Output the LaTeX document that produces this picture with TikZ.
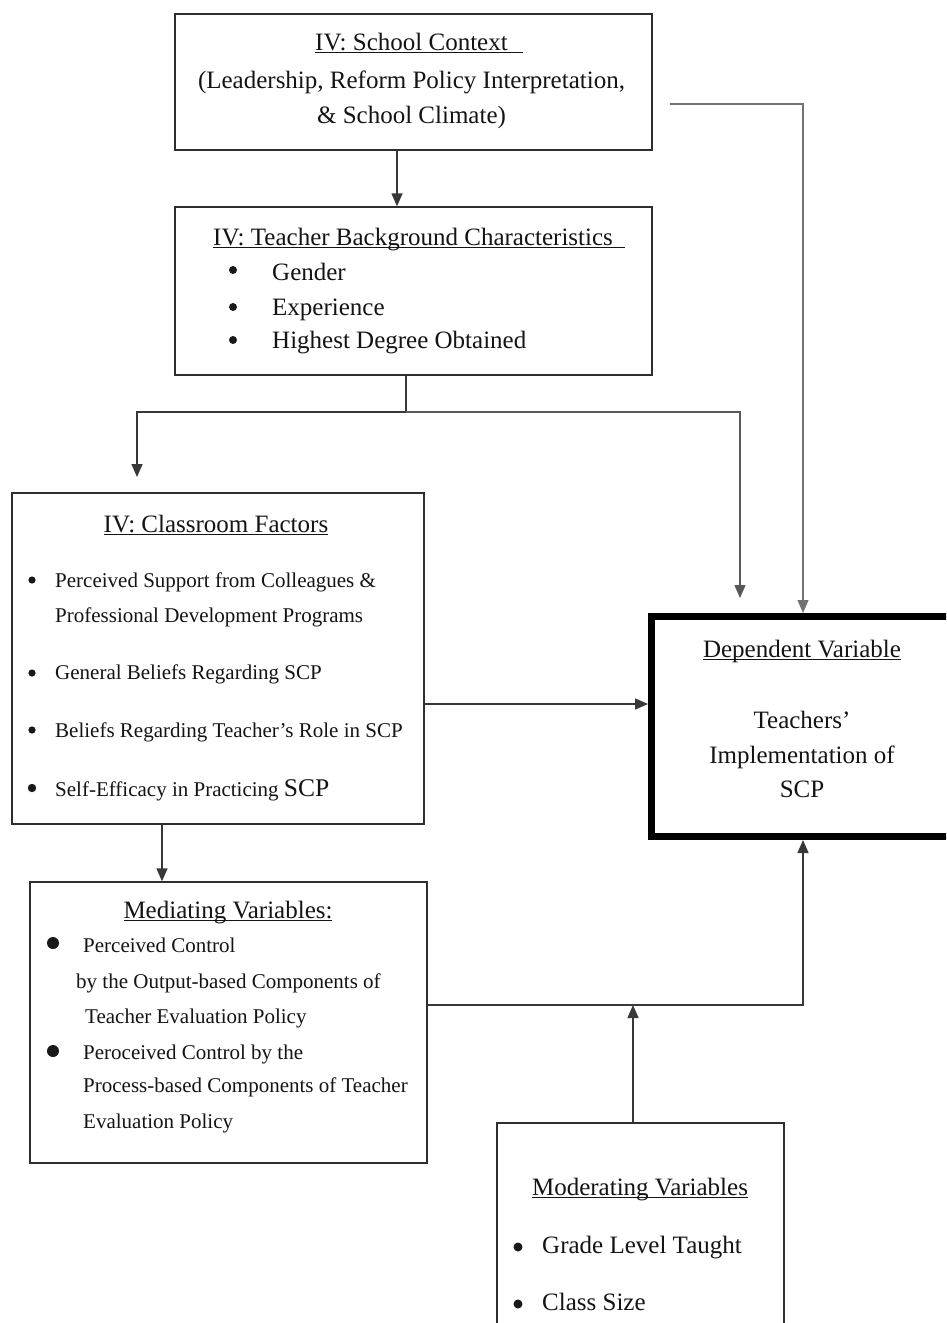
\documentclass[tikz,border=0pt]{standalone}
\usepackage{fontspec}
\setmainfont{Liberation Serif}
\usetikzlibrary{arrows.meta}

% underline sitting just below the baseline, through descenders
\newcommand{\undl}[1]{\begingroup\setbox0=\hbox{#1}\rlap{\rule[-3.4pt]{\wd0}{1.1pt}}\box0\endgroup}

\tikzset{
  box/.style={draw=black!82, line width=1.4pt, rectangle, inner sep=0pt},
  bigbox/.style={draw=black, line width=7pt, rectangle, inner sep=0pt},
  conn/.style={draw=black!78, line width=1.4pt},
  arr/.style={conn, -{Triangle[length=13pt,width=11pt]}},
  big/.style={font=\fontsize{25}{29}\selectfont, text=black!92, inner sep=0pt},
  small/.style={font=\fontsize{21}{24}\selectfont, text=black!92, inner sep=0pt},
  dot/.style={fill=black!90},
}

\begin{document}
\begin{tikzpicture}[x=1pt,y=-1pt]
\useasboundingbox (0,0) rectangle (946,1323);
\clip (0,0) rectangle (946,1323);
\fill[white] (0,0) rectangle (946,1323);

% ---- boxes ----
\node[box, minimum width=477pt, minimum height=136pt] (ctx) at (413.5,82) {};
\node[box, minimum width=477pt, minimum height=168pt] (tbc) at (413.5,291) {};
\node[box, minimum width=412pt, minimum height=331pt] (cls) at (218,658.5) {};
\node[box, minimum width=397pt, minimum height=281pt] (med) at (228.5,1022.5) {};
\node[bigbox, minimum width=303pt, minimum height=220pt] (dep) at (803,726.5) {};
\node[box, minimum width=287pt, minimum height=260pt] (mod) at (640.5,1253) {};

% ---- school context ----
\node[big, anchor=base] (ctxT) at (419,50) {\undl{IV: School Context\hspace{0.6em}}};
\node[big, anchor=base] (ctxA) at (411.5,88) {(Leadership, Reform Policy Interpretation,};
\node[big, anchor=base] (ctxB) at (411.5,123) {\& School Climate)};

% ---- teacher background ----
\node[big, anchor=base west] (tbcT) at (213,245) {\undl{IV: Teacher Background Characteristics\hspace{0.5em}}};
\fill[dot] (233,270) circle (4);
\fill[dot] (233,307) circle (4);
\fill[dot] (233,340) circle (4);
\node[big, anchor=base west] (tbcA) at (272,280) {Gender};
\node[big, anchor=base west] (tbcB) at (272,315) {Experience};
\node[big, anchor=base west] (tbcC) at (272,348) {Highest Degree Obtained};

% ---- classroom factors ----
\node[big, anchor=base] (clsT) at (216,532) {\undl{IV: Classroom Factors}};
\fill[dot] (32,580) circle (3.6);
\fill[dot] (32,673) circle (3.6);
\fill[dot] (32,730) circle (3.6);
\fill[dot] (32,788) circle (4.2);
\node[small, anchor=base west] (clsA) at (55,587) {Perceived Support from Colleagues \&};
\node[small, anchor=base west] (clsB) at (55,622) {Professional Development Programs};
\node[small, anchor=base west] (clsC) at (55,679) {General Beliefs Regarding SCP};
\node[small, anchor=base west] (clsD) at (55,737) {Beliefs Regarding Teacher’s Role in SCP};
\node[small, anchor=base west] (clsE) at (55,796) {Self-Efficacy in Practicing {\fontsize{25.5}{29}\selectfont SCP}};

% ---- mediating variables ----
\node[big, anchor=base] (medT) at (228,918) {\undl{Mediating Variables:}};
\fill[dot] (53,943) circle (6);
\fill[dot] (53,1051) circle (6);
\node[small, anchor=base west] (medA) at (83,952) {Perceived Control};
\node[small, anchor=base west] (medB) at (76,988) {by the Output-based Components of};
\node[small, anchor=base west] (medC) at (85,1023) {Teacher Evaluation Policy};
\node[small, anchor=base west] (medD) at (83,1059) {Peroceived Control by the};
\node[small, anchor=base west] (medE) at (83,1092) {Process-based Components of Teacher};
\node[small, anchor=base west] (medF) at (83,1128) {Evaluation Policy};

% ---- dependent variable ----
\node[big, anchor=base] (depT) at (802,657) {\undl{Dependent Variable}};
\node[big, anchor=base] (depA) at (802,728) {Teachers’};
\node[big, anchor=base] (depB) at (802,763) {Implementation of};
\node[big, anchor=base] (depC) at (802,797) {SCP};

% ---- moderating variables ----
\node[big, anchor=base] (modT) at (640,1195) {\undl{Moderating Variables}};
\fill[dot] (518,1247) circle (4.5);
\fill[dot] (518,1304) circle (4.5);
\node[big, anchor=base west] (modA) at (542,1253) {Grade Level Taught};
\node[big, anchor=base west] (modB) at (542,1310) {Class Size};

% ---- connectors ----
\coordinate (ctxOut) at (670,104);
\draw[arr, draw=black!55] (ctxOut) -| (dep.north);
\draw[arr] ([xshift=-16.5pt]ctx.south) -- ([xshift=-16.5pt]ctx.south |- tbc.north);

\coordinate (split) at (406,412);
\coordinate (leftTurn) at (137,412);
\coordinate (leftEnd) at (137,477);
\coordinate (rightTurn) at (740,412);
\coordinate (rightEnd) at (740,598);
\draw[conn] ([xshift=-7.5pt]tbc.south) -- (split);
\draw[arr] (split) -- (leftTurn) -- (leftEnd);
\draw[arr, draw=black!65] (split) -- (rightTurn) -- (rightEnd);

\draw[arr] ([yshift=-45.5pt]cls.east) -- ([yshift=-45.5pt]cls.east -| dep.west);
\draw[arr] ([xshift=-56pt]cls.south) -- ([xshift=-56pt]cls.south |- med.north);

\draw[arr] ([yshift=17.5pt]med.east) -| (dep.south);
\coordinate (modJoin) at (633,1005);
\draw[arr] ([xshift=-7.5pt]mod.north) -- (modJoin);
\end{tikzpicture}
\end{document}
